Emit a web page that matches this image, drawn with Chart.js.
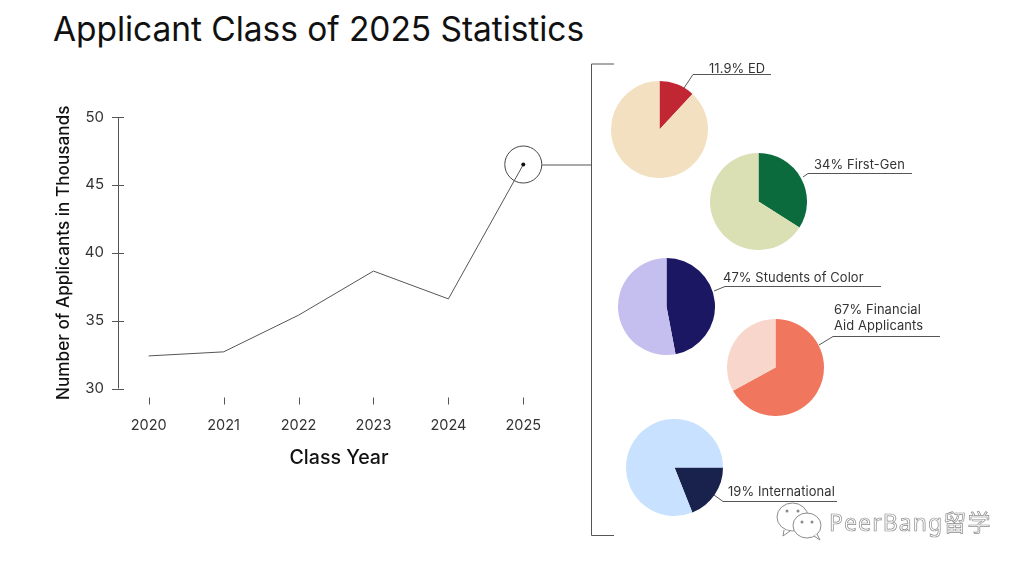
<!DOCTYPE html>
<html><head><meta charset="utf-8">
<script src="https://cdn.jsdelivr.net/npm/chart.js@4"></script>
<style>
html,body{margin:0;padding:0;background:#fff;width:1024px;height:570px;overflow:hidden}
body{position:relative;font-family:Inter,"Noto Sans CJK SC",sans-serif}
canvas{position:absolute;display:block}
svg{position:absolute;left:0;top:0}
.t{position:absolute;white-space:nowrap;color:#333;font-size:12.9px;line-height:16px;letter-spacing:.1px}
#title{position:absolute;left:53px;top:9px;font-size:33.5px;line-height:40px;color:#111;white-space:nowrap;letter-spacing:-.05px}
#wm{position:absolute;left:829px;top:506px;font-size:23px;line-height:32px;letter-spacing:1.1px;color:#fff;-webkit-text-stroke:.7px #8a8a8a;font-family:"Noto Sans","Noto Sans CJK SC",sans-serif;white-space:nowrap}
</style></head><body>
<div id="title">Applicant Class of 2025 Statistics</div>
<canvas id="main" width="1024" height="570" style="left:0;top:0;width:1024px;height:570px"></canvas>
<canvas id="p0" width="97" height="97" style="left:611px;top:81px;width:97px;height:97px"></canvas>
<canvas id="p1" width="97" height="97" style="left:710px;top:153px;width:97px;height:97px"></canvas>
<canvas id="p2" width="97" height="97" style="left:618px;top:258px;width:97px;height:97px"></canvas>
<canvas id="p3" width="97" height="97" style="left:727px;top:319px;width:97px;height:97px"></canvas>
<canvas id="p4" width="97" height="97" style="left:626px;top:419px;width:97px;height:97px"></canvas>
<svg width="1024" height="570" fill="none" stroke="#555" stroke-width="1">
<path d="M614 64H591.5V535.5H614M542 165H591.5"/>
<path d="M684 88L693 74.5H771M803 177L808 173.5H912M714 291L725 286.5H881M819 345L833 336.5H940M714 495L723 501.5H837"/>
<g stroke="#8a8a8a" stroke-width="1" fill="#fff">
<ellipse cx="792.5" cy="517" rx="15.5" ry="14"/><path d="M784 530L783 536L790 531"/>
<ellipse cx="807" cy="525.5" rx="14" ry="12.5"/><path d="M814 536L820 540L817 534"/>
</g>
<g fill="#8a8a8a" stroke="none"><circle cx="787" cy="511" r="1.5"/><circle cx="798" cy="511" r="1.5"/><circle cx="802" cy="522" r="1.5"/><circle cx="812" cy="522" r="1.5"/></g>
</svg>
<div class="t" style="left:709px;top:61px">11.9% ED</div>
<div class="t" style="left:814px;top:157px">34% First-Gen</div>
<div class="t" style="left:723px;top:270px">47% Students of Color</div>
<div class="t" style="left:834px;top:302px">67% Financial<br>Aid Applicants</div>
<div class="t" style="left:728px;top:484px">19% International</div>
<div id="wm">PeerBang留学</div>
<script>
const years = [2020, 2021, 2022, 2023, 2024, 2025];
const applicants = [32.4, 32.7, 35.4, 38.65, 36.6, 46.5];
const highlighted = [null, null, null, null, null, 46.5];
const yTicks = [30, 35, 40, 45, 50];
const pieShares = [[11.9, 88.1], [34, 66], [47, 53], [67, 33], [19, 81]];
const pieColors = [['#C02733', '#F3E0C0'], ['#0B6B3C', '#DADFB4'], ['#1B1763', '#C5BFEF'], ['#F0765E', '#F9D6CB'], ['#19214D', '#C7E1FF']];
const pieRotation = [0, 0, 0, 0, 90];

const fontFamily = 'Inter, sans-serif';
const tickMarks = {
  id: 'tickMarks',
  afterDraw(c) {
    const g = c.ctx, x = c.scales.x, y = c.scales.y;
    g.save(); g.strokeStyle = '#555'; g.lineWidth = 1; g.beginPath();
    y.ticks.forEach(t => { const p = Math.round(y.getPixelForValue(t.value)) + .5; g.moveTo(x.left - 6, p); g.lineTo(x.left + 6, p); });
    x.ticks.forEach(t => { const p = Math.round(x.getPixelForValue(t.value)) + .5; g.moveTo(p, y.bottom + 9); g.lineTo(p, y.bottom + 16); });
    g.moveTo(x.left + .5, y.top); g.lineTo(x.left + .5, y.bottom);
    g.stroke(); g.restore();
  }
};
new Chart(document.getElementById('main'), {
  type: 'line',
  data: { datasets: [
    { data: years.map((v, i) => ({ x: v, y: applicants[i] })), borderColor: '#555', borderWidth: 1, tension: 0,
      pointRadius: years.map((v, i) => i === years.length - 1 ? 2 : 0), pointBackgroundColor: '#111', pointBorderWidth: 0 },
    { data: years.map((v, i) => ({ x: v, y: highlighted[i] })), showLine: false, pointRadius: 18.5, pointBorderWidth: 1,
      pointBorderColor: '#444', pointBackgroundColor: 'rgba(0,0,0,0)' }
  ] },
  options: {
    responsive: false, animation: false, devicePixelRatio: 1,
    layout: { padding: { left: 0, top: 117, right: 464, bottom: 100.5 } },
    plugins: { legend: { display: false }, tooltip: { enabled: false } },
    scales: {
      x: { type: 'linear', min: 2019.59, max: 2025.49,
        afterBuildTicks(a) { a.ticks = years.map(v => ({ value: v })); },
        afterFit(a) { a.height = 81; },
        border: { display: false }, grid: { display: false, drawTicks: false },
        ticks: { padding: 28, maxRotation: 0, autoSkip: false, color: '#333', font: { family: fontFamily, size: 14.5 }, callback: v => String(v) },
        title: { display: true, text: 'Class Year', color: '#111', font: { family: fontFamily, size: 19.6, weight: '500' }, padding: 0 } },
      y: { min: 30, max: 50,
        afterBuildTicks(a) { a.ticks = yTicks.map(v => ({ value: v })); },
        afterFit(a) { a.width = 118; },
        border: { display: false }, grid: { display: false, drawTicks: false },
        ticks: { padding: 14, color: '#333', font: { family: fontFamily, size: 15 } },
        title: { display: true, text: 'Number of Applicants in Thousands', color: '#111', font: { family: fontFamily, size: 17.2, weight: '500' }, padding: { top: 54, bottom: 0 } } }
    }
  },
  plugins: [tickMarks]
});
pieShares.forEach((vals, i) => {
  new Chart(document.getElementById('p' + i), {
    type: 'pie',
    data: { datasets: [{ data: vals, backgroundColor: pieColors[i], borderWidth: 0 }] },
    options: { responsive: false, animation: false, devicePixelRatio: 1, rotation: pieRotation[i],
      plugins: { legend: { display: false }, tooltip: { enabled: false } } }
  });
});
</script>
</body></html>
